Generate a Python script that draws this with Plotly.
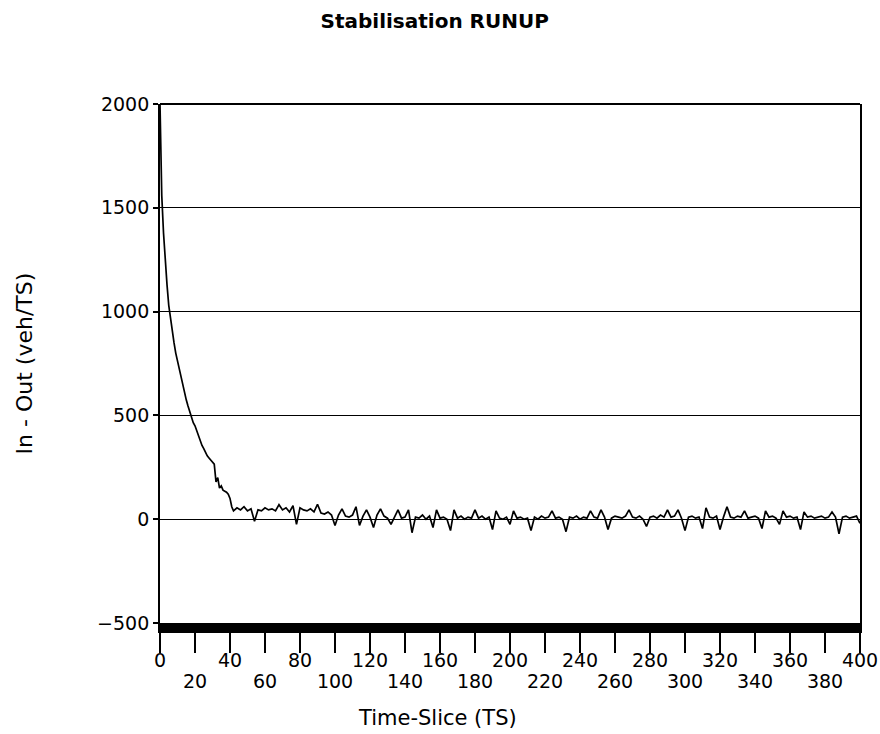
import plotly.graph_objects as go

# decay phase, one value per time-slice (0..42)
ts_start = list(range(0, 43))
val_start = [
    2000, 1560, 1380, 1230, 1130, 1030, 960, 900, 850, 800,
    760, 720, 680, 640, 610, 575, 545, 515, 490, 465,
    450, 425, 400, 385, 355, 340, 320, 305, 295, 285,
    280, 265, 180, 200, 150, 160, 140, 135, 130, 120,
    100, 60, 40,
]

# settled phase, every second time-slice (44..400)
ts_rest = list(range(44, 401, 2))
val_rest = [
    55, 45, 60, 40, 50, -10, 45, 40, 55, 45,
    50, 40, 70, 45, 55, 35, 65, -25, 55, 45,
    40, 50, 35, 72, 30, 25, 35, 20, -30, 20,
    50, 15, 10, 20, 60, -30, 15, 45, 10, -40,
    20, 50, 15, 5, -25, 10, 45, 5, 10, 45,
    -65, 10, 5, 20, 0, 15, -40, 45, 5, 10,
    0, -55, 45, 5, 15, 0, 10, 5, 45, 5,
    15, 0, 10, -50, 40, 5, 0, 10, -25, 40,
    5, 10, 0, 5, -55, 10, 0, 15, 5, 10,
    40, 5, 10, 0, -60, 10, 5, 15, 0, 10,
    5, 40, 10, 5, 45, 10, -50, 5, 15, 10,
    5, 15, 45, 10, 5, 15, 0, -35, 10, 15,
    5, 20, 10, 45, 10, 15, 45, 5, -55, 10,
    15, 5, 10, -45, 55, 10, 5, 15, -50, 10,
    60, 10, 5, 15, 10, 40, 5, 10, 15, 5,
    -45, 40, 10, 15, 5, -25, 40, 10, 15, 5,
    10, -50, 35, 10, 15, 5, 10, 15, 5, 10,
    35, 10, -70, 10, 15, 5, 10, 15, -20,
]

time_slice = ts_start + ts_rest
in_out = val_start + val_rest

x_ticks = list(range(0, 401, 20))
x_labels_upper = [str(v) if v % 40 == 0 else "" for v in x_ticks]
x_ticks_lower = list(range(20, 400, 40))
y_ticks = [-500, 0, 500, 1000, 1500, 2000]

FONT = "DejaVu Sans, Arial, sans-serif"

fig = go.Figure()
fig.add_trace(
    go.Scatter(
        x=time_slice,
        y=in_out,
        mode="lines",
        line=dict(color="black", width=1.7),
        showlegend=False,
        hoverinfo="skip",
    )
)
# invisible copy on the second x-axis, which only carries the lower label row
fig.add_trace(
    go.Scatter(
        x=time_slice,
        y=in_out,
        xaxis="x2",
        mode="lines",
        line=dict(color="rgba(0,0,0,0)", width=0),
        showlegend=False,
        hoverinfo="skip",
    )
)

axis_common = dict(
    range=[0, 400],
    tickangle=0,
    ticks="outside",
    ticklen=20,
    tickwidth=1.5,
    showline=True,
    linewidth=10,
    showgrid=False,
    zeroline=False,
    automargin=False,
    tickfont=dict(family=FONT, size=19, color="black"),
)

fig.update_layout(
    width=880,
    height=734,
    plot_bgcolor="white",
    paper_bgcolor="white",
    margin=dict(l=160, r=20, t=104, b=111),
    font=dict(family=FONT, size=19, color="black"),
    title=dict(
        text="<b>Stabilisation RUNUP</b>",
        x=0.494,
        xref="container",
        xanchor="center",
        y=0.971,
        yanchor="middle",
        font=dict(family=FONT, size=20, color="black"),
    ),
    xaxis=dict(
        axis_common,
        tickvals=x_ticks,
        ticktext=x_labels_upper,
        tickcolor="black",
        linecolor="black",
        ticklabelstandoff=-9,
    ),
    xaxis2=dict(
        axis_common,
        overlaying="x",
        anchor="y",
        side="bottom",
        tickvals=x_ticks_lower,
        tickcolor="rgba(0,0,0,0)",
        linecolor="rgba(0,0,0,0)",
        ticklabelstandoff=12,
    ),
    yaxis=dict(
        range=[-500, 2000],
        tickvals=y_ticks,
        ticks="outside",
        ticklen=5,
        tickwidth=1.5,
        tickcolor="black",
        showline=True,
        linewidth=1.8,
        linecolor="black",
        mirror=True,
        showgrid=True,
        gridcolor="black",
        gridwidth=1.3,
        zeroline=True,
        zerolinecolor="black",
        zerolinewidth=1.3,
        automargin=False,
    ),
)

# top border of the frame
fig.add_shape(type="line", xref="paper", yref="paper", x0=0, x1=1, y0=1, y1=1,
              line=dict(color="black", width=1.8))

fig.add_annotation(
    text="Time-Slice (TS)",
    xref="paper", yref="paper",
    x=0.396, y=-0.183,
    xanchor="center", yanchor="middle",
    showarrow=False,
    font=dict(family=FONT, size=21),
)
fig.add_annotation(
    text="In - Out (veh/TS)",
    xref="paper", yref="paper",
    x=-0.193, y=0.5,
    xanchor="center", yanchor="middle",
    textangle=-90,
    showarrow=False,
    font=dict(family=FONT, size=22),
)

# drop the default body margin so the figure fills the window exactly
fig.write_html(
    "out.html",
    config={"displayModeBar": False},
    post_script="document.body.style.margin='0';document.body.style.overflow='hidden';",
)
